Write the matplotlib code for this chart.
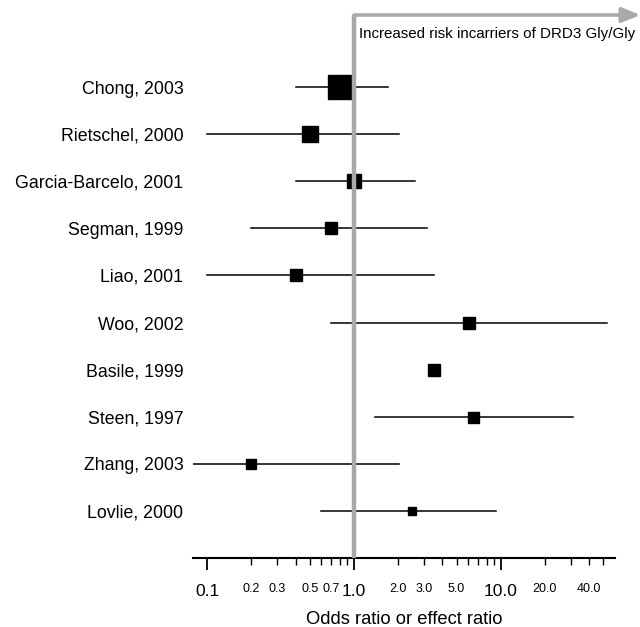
#!/usr/bin/env python3
"""Forest plot of DRD3 Ser9Gly studies (odds ratios on a log scale)."""

import matplotlib
matplotlib.use("Agg")
import matplotlib.pyplot as plt
import numpy as np

plt.rcParams['font.family'] = ['Liberation Sans', 'DejaVu Sans']

# Study data
studies = ['Chong, 2003', 'Rietschel, 2000', 'Garcia-Barcelo, 2001', 'Segman, 1999',
           'Liao, 2001', 'Woo, 2002', 'Basile, 1999', 'Steen, 1997',
           'Zhang, 2003', 'Lovlie, 2000']
odds_ratio = [0.80, 0.50, 1.00, 0.70, 0.40, 6.10, 3.49, 6.42, 0.20, 2.49]
ci_low = [0.40, 0.10, 0.40, 0.20, 0.10, 0.70, np.nan, 1.40, 0.080, 0.60]
ci_high = [1.71, 2.02, 2.62, 3.13, 3.53, 52.8, np.nan, 31.1, 2.02, 9.33]
# box side (pixels) ~ study weight
weights = [24, 16, 14, 12.3, 12.7, 12.3, 12.7, 11, 10.7, 8]

major_ticks = [0.1, 1.0, 10.0]
major_labels = ['0.1', '1.0', '10.0']
minor_ticks = [0.2, 0.3, 0.4, 0.5, 0.6, 0.7, 0.8, 0.9,
               2, 3, 4, 5, 6, 7, 8, 9, 20, 30, 40, 50]
minor_labels = ['0.2', '0.3', '', '0.5', '', '0.7', '', '',
                '2.0', '3.0', '', '5.0', '', '', '', '', '20.0', '', '40.0', '']

fig = plt.figure(figsize=(6.4, 6.27), dpi=100)
ax = fig.add_axes([193 / 640, 1 - 558 / 627, 422 / 640, 543 / 627])

gray = '#a9a9a9'
rows = np.arange(len(studies))

# confidence intervals
for y, lo, hi in zip(rows, ci_low, ci_high):
    if not np.isnan(lo):
        ax.plot([lo, hi], [y, y], color='black', lw=1.1, zorder=2)

# point estimates
for y, orv, w in zip(rows, odds_ratio, weights):
    ax.plot(orv, y, marker='s', color='black', markersize=w * 0.72,
            linestyle='none', zorder=3)

# reference line at OR = 1 with arrow
ax.axvline(1.0, color=gray, lw=3.2, zorder=4)
ax.annotate('', xy=(1.06, 1.0), xycoords=('axes fraction', 'axes fraction'),
            xytext=(1.0, 1.0), textcoords=('data', 'axes fraction'),
            arrowprops=dict(arrowstyle='-|>,head_length=1.1,head_width=0.45',
                            color=gray, lw=2.6, shrinkA=0, shrinkB=0),
            annotation_clip=False, zorder=4)
ax.text(1.08, -1.12, 'Increased risk incarriers of DRD3 Gly/Gly',
        fontsize=10.9, va='center', ha='left')

ax.set_xscale('log')
ax.set_xlim(0.08, 60)
ax.set_ylim(10.0, -1.53)

ax.set_xticks(major_ticks)
ax.set_xticklabels(major_labels, fontsize=12.5)
ax.set_xticks(minor_ticks, minor=True)
ax.set_xticklabels(minor_labels, minor=True, fontsize=9)
ax.tick_params(axis='x', which='major', length=8.5, width=1.3, pad=10)
ax.tick_params(axis='x', which='minor', length=5, width=1.0, pad=13)

ax.set_yticks(rows)
ax.set_yticklabels(studies, fontsize=12.8)
ax.tick_params(axis='y', length=0, pad=7)

for side in ['top', 'right', 'left']:
    ax.spines[side].set_visible(False)
ax.spines['bottom'].set_linewidth(1.5)

ax.set_xlabel('Odds ratio or effect ratio', fontsize=13.2, labelpad=9)

fig.savefig('out.png', dpi=100)
